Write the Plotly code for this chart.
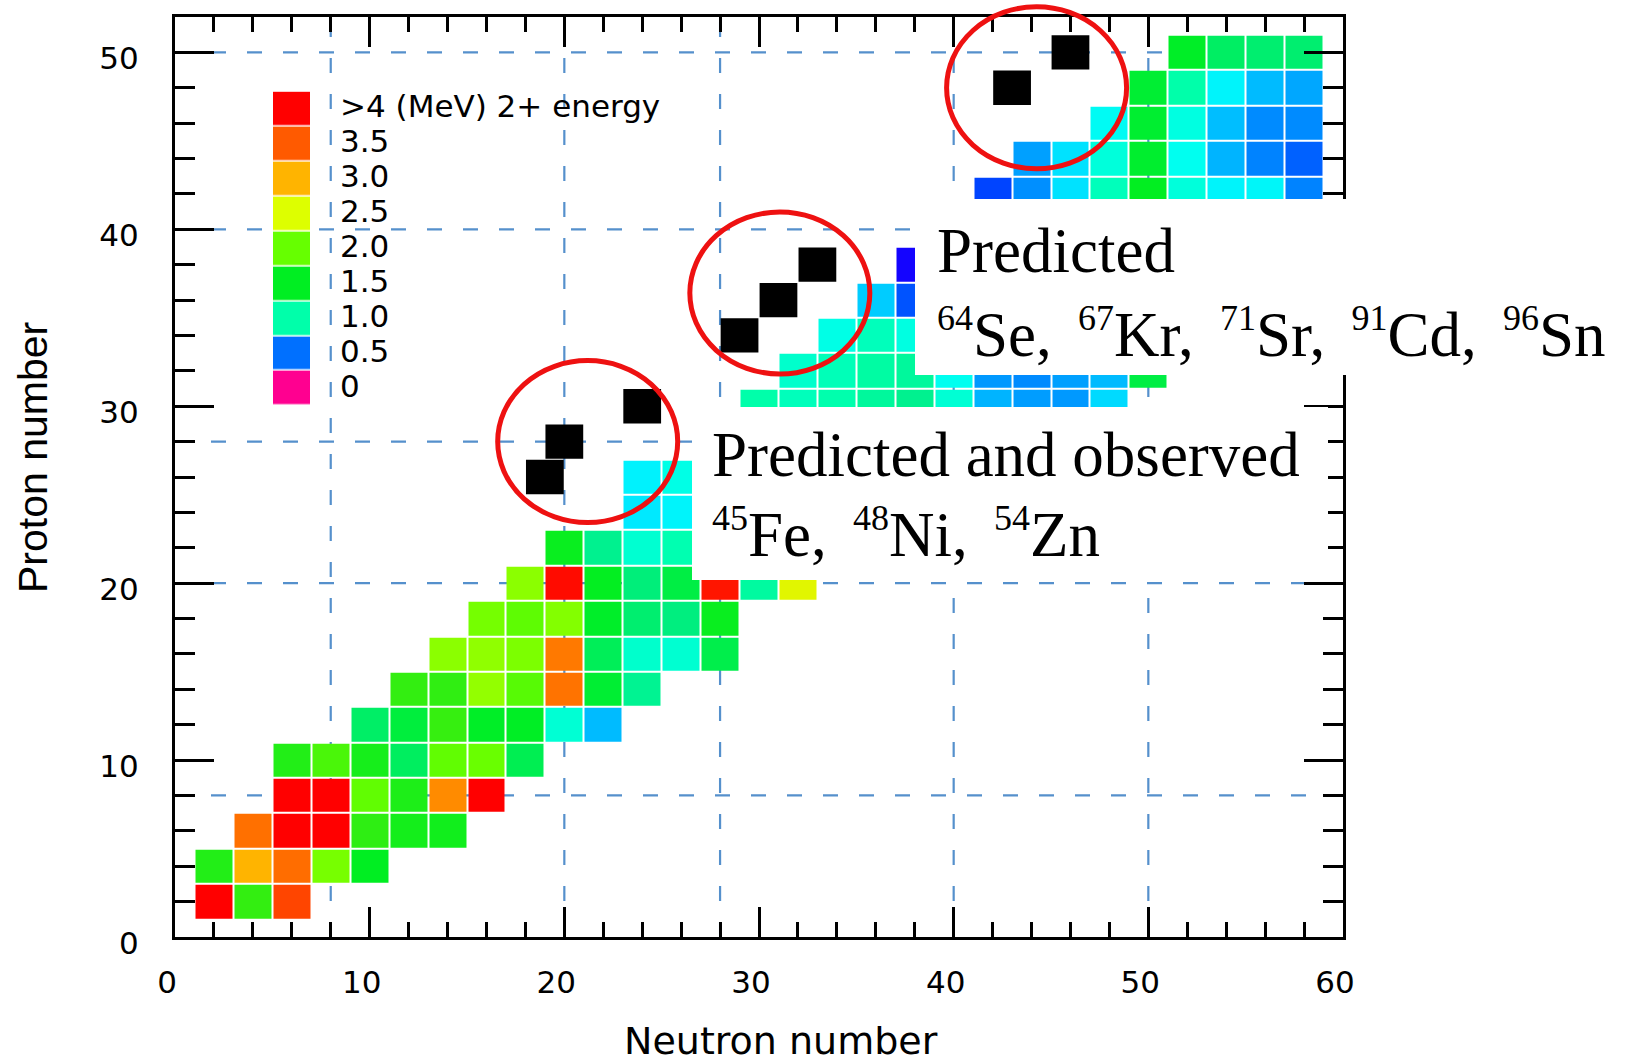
import plotly.graph_objects as go

# ---------------------------------------------------------------------------
# First 2+ excitation energies (MeV) of even-even nuclei, one list per proton
# row; each row starts at FIRST_NEUTRON and steps by two neutrons.
# ---------------------------------------------------------------------------
PROTON_ROWS = [2, 4, 6, 8, 10, 12, 14, 16, 18, 20, 22, 24, 26,
               30, 32, 34, 36, 38, 42, 44, 46, 48, 50]
FIRST_NEUTRON = [2, 2, 4, 6, 6, 10, 12, 14, 16, 18, 20, 24, 24,
                 30, 32, 34, 36, 38, 42, 44, 48, 50, 52]
E2_ROWS = [
    [5.00, 1.80, 3.60],                                              # He
    [1.70, 3.00, 3.37, 2.10, 1.50],                                  # Be
    [3.35, 4.44, 7.00, 1.77, 1.62, 1.60],                            # C
    [6.60, 6.92, 1.98, 1.67, 3.20, 4.70],                            # O
    [1.70, 1.89, 1.63, 1.27, 1.98, 2.02, 1.31],                      # Ne
    [1.25, 1.37, 1.81, 1.47, 1.48, 0.885, 0.66],                     # Mg
    [1.80, 1.78, 2.24, 1.94, 3.33, 1.40, 1.07],                      # Si
    [2.21, 2.23, 2.13, 3.29, 1.29, 0.90, 0.89, 1.33],                # S
    [2.09, 1.97, 2.17, 1.46, 1.21, 1.14, 1.55],                      # Ar
    [2.21, 3.90, 1.52, 1.16, 1.35, 3.83, 1.03, 2.56],                # Ca
    [1.55, 1.08, 0.89, 0.98],                                        # Ti
    [0.75, 0.78],                                                    # Cr
    [0.77, 0.85],                                                    # Fe
    [1.00, 0.95, 0.99, 1.04, 1.08, 0.885, 0.65, 0.61, 0.60, 0.73],   # Zn
    [0.90, 0.96, 1.02, 1.04, 0.83, 0.60, 0.56, 0.62, 0.66, 1.35],    # Ge
    [0.85, 0.95, 0.86],                                              # Se
    [0.71, 0.46],                                                    # Kr
    [0.26],                                                          # Sr
    [0.44, 0.57, 0.74, 0.95, 1.51, 0.87, 0.78, 0.79, 0.54],          # Mo
    [0.62, 0.74, 0.87, 1.43, 0.83, 0.65, 0.54, 0.48],                # Ru
    [0.81, 1.42, 0.86, 0.67, 0.56, 0.56],                            # Pd
    [1.40, 1.00, 0.78, 0.66, 0.63],                                  # Cd
    [1.47, 1.26, 1.21, 1.21],                                        # Sn
]

# Two-proton emitters (black squares)
TWO_P_N = [19, 20, 24, 29, 31, 33, 43, 46]
TWO_P_Z = [26, 28, 30, 34, 36, 38, 48, 50]

# Centres of the red rings around the emitter groups (N, Z)
RING_N = [21.2, 31.07, 44.26]
RING_Z = [28.0, 36.4, 48.0]

# Shell closures drawn as dashed guides
MAGIC_NUMBERS = [8, 20, 28, 40, 50]

# Colour key
LEGEND_VALUES = [0.0, 0.5, 1.0, 1.5, 2.0, 2.5, 3.0, 3.5, 4.0]
LEGEND_LABELS = ["0", "0.5", "1.0", "1.5", "2.0", "2.5", "3.0", "3.5",
                 ">4 (MeV) 2+ energy"]

# Energy -> colour stops (MeV)
E_MAX = 4.0
COLOR_STOPS = [
    (0.00, "#FF0090"), (0.25, "#1500FF"), (0.44, "#0044FF"), (0.50, "#0070FF"),
    (0.55, "#0088FF"), (0.62, "#00A0FF"), (0.66, "#00BBFF"), (0.71, "#00CCFF"),
    (0.76, "#00F0FF"), (0.83, "#00FFF0"), (0.90, "#00FFCC"), (1.00, "#00FFAA"),
    (1.10, "#00EE88"), (1.25, "#00EE66"), (1.40, "#00EE33"), (1.50, "#00EE22"),
    (1.80, "#33EE11"), (2.00, "#66FF00"), (2.20, "#88FF00"), (2.50, "#DDFF00"),
    (3.00, "#FFB400"), (3.30, "#FF7700"), (3.50, "#FF5A00"), (3.85, "#FF1100"),
    (4.00, "#FF0000"),
]
colorscale = [[e / E_MAX, c] for e, c in COLOR_STOPS]

# Axis extents
N_RANGE = [0, 60]
Z_RANGE = [0, 52]

# ---------------------------------------------------------------------------
# Build the regular (N, Z) grid for the heatmap
# ---------------------------------------------------------------------------
n_axis = list(range(2, 60, 2))
z_axis = list(range(2, 52, 2))
grid = [[None] * len(n_axis) for _ in z_axis]
for z, n0, row in zip(PROTON_ROWS, FIRST_NEUTRON, E2_ROWS):
    for k, e in enumerate(row):
        grid[z_axis.index(z)][n_axis.index(n0 + 2 * k)] = e

W, H = 1633, 1063
M_L, M_R, M_T, M_B = 175, 290, 17, 126
PW, PH = W - M_L - M_R, H - M_T - M_B


def px_x(px):
    """Canvas x pixel -> paper fraction."""
    return (px - M_L) / PW


def px_y(py):
    """Canvas y pixel -> paper fraction."""
    return (H - M_B - py) / PH


fig = go.Figure()

fig.add_trace(go.Heatmap(
    x=n_axis, y=z_axis, z=grid,
    colorscale=colorscale, zmin=0, zmax=E_MAX, showscale=False,
    xgap=2, ygap=2, hoverongaps=False,
))

# Colour key as a small heatmap on its own axes
fig.add_trace(go.Heatmap(
    x=[0], y=list(range(len(LEGEND_VALUES))),
    z=[[v] for v in LEGEND_VALUES],
    colorscale=colorscale, zmin=0, zmax=E_MAX, showscale=False,
    ygap=1.5, xaxis="x2", yaxis="y2", hoverinfo="skip",
))

shapes = []
dash_line = dict(color="#5590CC", width=2.2, dash="15px,21px")
for m in MAGIC_NUMBERS:
    shapes.append(dict(type="line", xref="x", yref="paper", x0=m, x1=m,
                       y0=0, y1=1, line=dash_line, layer="below"))
    shapes.append(dict(type="line", xref="paper", yref="y", x0=0, x1=1,
                       y0=m, y1=m, line=dash_line, layer="below"))

for n, z in zip(TWO_P_N, TWO_P_Z):
    shapes.append(dict(type="rect", xref="x", yref="y",
                       x0=n - 0.97, x1=n + 0.97, y0=z - 0.97, y1=z + 0.97,
                       fillcolor="black", line=dict(width=0), layer="above"))

# White label panels
shapes.append(dict(type="rect", xref="paper", yref="paper",
                   x0=px_x(915), x1=px_x(1640), y0=px_y(375), y1=px_y(199),
                   fillcolor="white", line=dict(width=0), layer="above"))
shapes.append(dict(type="rect", xref="paper", yref="paper",
                   x0=px_x(692), x1=px_x(1328), y0=px_y(580), y1=px_y(407),
                   fillcolor="white", line=dict(width=0), layer="above"))

for n, z in zip(RING_N, RING_Z):
    shapes.append(dict(type="circle", xref="paper", yref="paper",
                       xsizemode="pixel", ysizemode="pixel",
                       xanchor=(n - N_RANGE[0]) / (N_RANGE[1] - N_RANGE[0]),
                       yanchor=(z - Z_RANGE[0]) / (Z_RANGE[1] - Z_RANGE[0]),
                       x0=-90, x1=90, y0=-81, y1=81,
                       line=dict(color="#EE1111", width=5),
                       fillcolor="rgba(0,0,0,0)", layer="above"))

annotations = []
for i, lab in enumerate(LEGEND_LABELS):
    annotations.append(dict(text=lab, xref="paper", yref="y2", x=px_x(338), y=i,
                            xanchor="left", yanchor="middle", yshift=3,
                            showarrow=False,
                            font=dict(family="DejaVu Sans", size=31, color="black")))

serif = dict(family="Liberation Serif", size=63, color="black")
GAP = " \u2006"


def sup(t):
    return "<sup><span style='font-size:36px'>%s</span></sup>" % t


label_lines = [
    ("Predicted", 936, 251),
    (sup("64") + "Se," + GAP + sup("67") + "Kr," + GAP + sup("71") + "Sr," + GAP
     + sup("91") + "Cd," + GAP + sup("96") + "Sn", 936, 334),
    ("Predicted and observed", 711, 455),
    (sup("45") + "Fe," + GAP + sup("48") + "Ni," + GAP + sup("54") + "Zn", 711, 534),
]
for txt, x0, yc in label_lines:
    annotations.append(dict(text=txt, xref="paper", yref="paper",
                            x=px_x(x0), y=px_y(yc), xanchor="left", yanchor="middle",
                            showarrow=False, font=serif, borderpad=0))

annotations.append(dict(text="Neutron number", xref="paper", yref="paper",
                        x=px_x(781), y=px_y(1041), xanchor="center", yanchor="middle",
                        showarrow=False,
                        font=dict(family="DejaVu Sans", size=38, color="black")))
annotations.append(dict(text="Proton number", xref="paper", yref="paper",
                        x=px_x(33), y=px_y(458), xanchor="center", yanchor="middle",
                        textangle=-90, showarrow=False,
                        font=dict(family="Liberation Sans", size=41, color="black")))

axis_common = dict(
    showline=True, linecolor="black", linewidth=3, mirror="ticks",
    ticks="inside", tickcolor="black", tickwidth=2.5,
    showgrid=False, zeroline=False, tick0=0, dtick=10,
    tickfont=dict(family="DejaVu Sans", size=31, color="black"),
)

fig.update_layout(
    width=W, height=H,
    margin=dict(l=M_L, r=M_R, t=M_T, b=M_B, pad=0),
    paper_bgcolor="white", plot_bgcolor="white",
    showlegend=False,
    xaxis=dict(range=N_RANGE, domain=[0, 1], ticklen=30,
               minor=dict(dtick=2, ticklen=15, tickwidth=2.5, tickcolor="black",
                          ticks="inside", showgrid=False),
               ticklabelstandoff=16, ticklabelshift=-8, **axis_common),
    yaxis=dict(range=Z_RANGE, domain=[0, 1], ticklen=39,
               minor=dict(dtick=2, ticklen=20, tickwidth=2.5, tickcolor="black",
                          ticks="inside", showgrid=False),
               ticklabelstandoff=27, ticklabelshift=6, **axis_common),
    xaxis2=dict(domain=[px_x(273), px_x(310)], anchor="y2", range=[-0.5, 0.5],
                visible=False, fixedrange=True),
    yaxis2=dict(domain=[px_y(406), px_y(91.6)], anchor="x2", range=[-0.5, 8.5],
                visible=False, fixedrange=True),
    shapes=shapes,
    annotations=annotations,
)

fig.write_html("out.html")
